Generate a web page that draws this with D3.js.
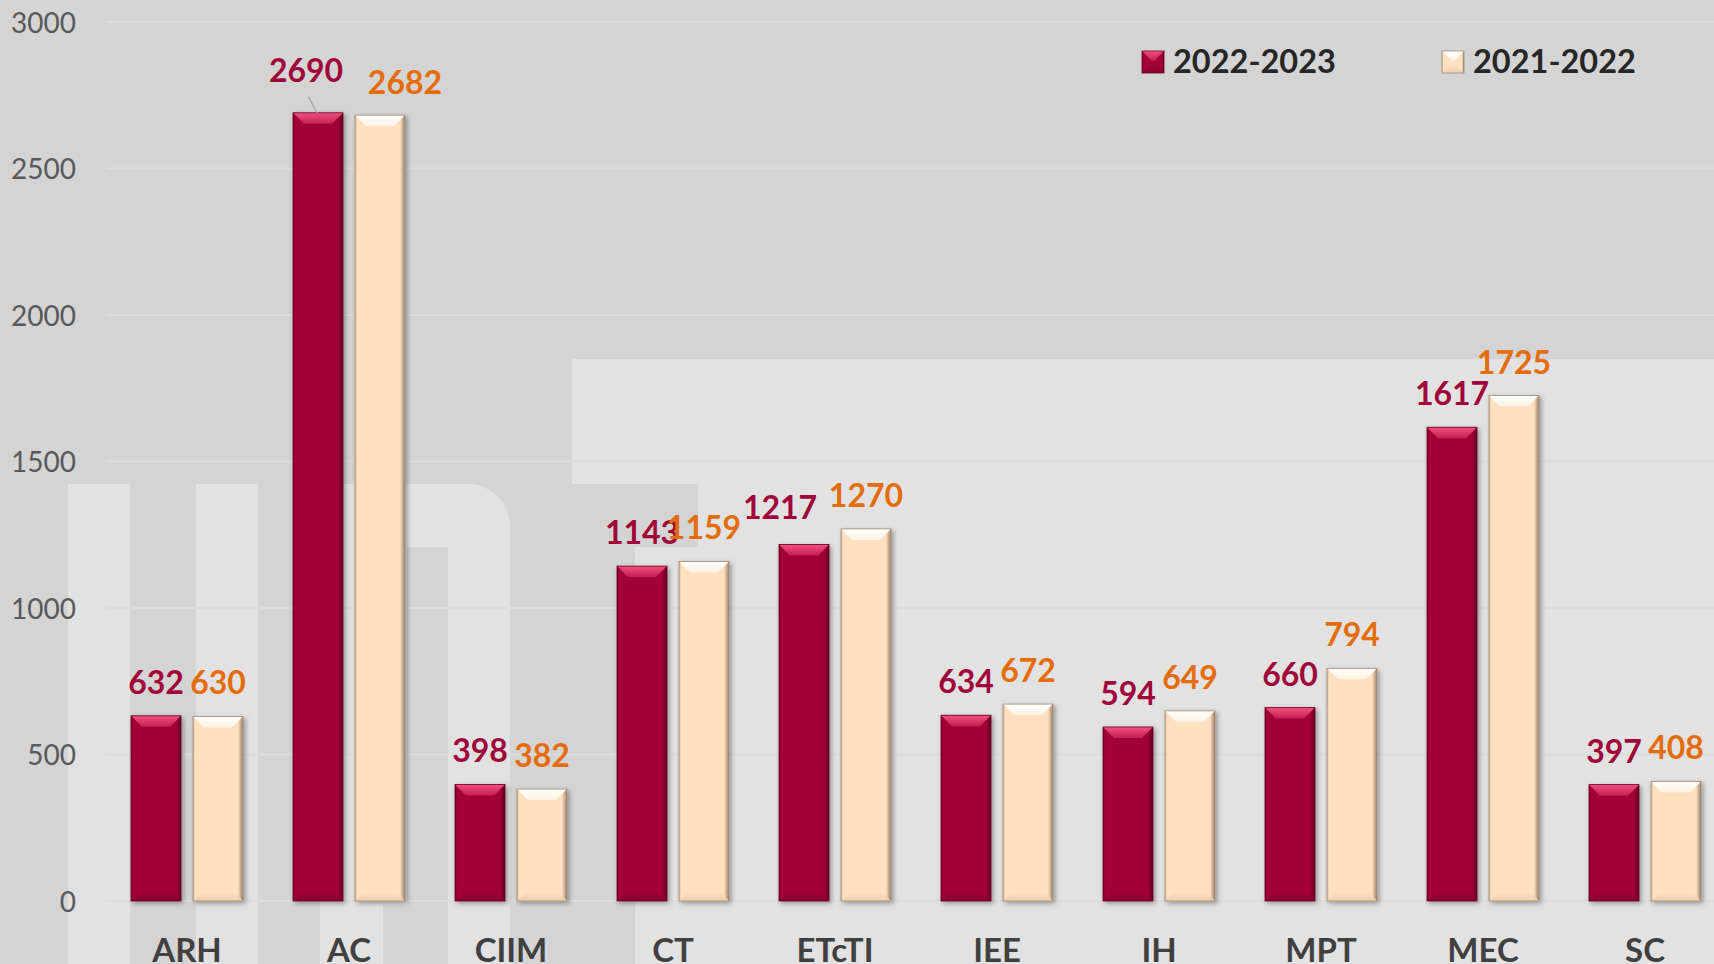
<!DOCTYPE html>
<html>
<head>
<meta charset="utf-8">
<script src="https://cdn.jsdelivr.net/npm/d3@7"></script>
<style>
  html, body { margin: 0; padding: 0; background: #d4d4d4; overflow: hidden; }
  svg { display: block; font-family: Lato, "Noto Sans", sans-serif; }
</style>
</head>
<body>
<div id="chart"></div>
<script>
// data
var categories = ["ARH", "AC", "CIIM", "CT", "ETcTI", "IEE", "IH", "MPT", "MEC", "SC"];
var values_2223 = [632, 2690, 398, 1143, 1217, 634, 594, 660, 1617, 397];
var values_2122 = [630, 2682, 382, 1159, 1270, 672, 649, 794, 1725, 408];
var series_names = ["2022-2023", "2021-2022"];
var y_ticks = [0, 500, 1000, 1500, 2000, 2500, 3000];

const width = 1714, height = 964;
const plot = {left: 106, right: 1726, top: 22, bottom: 901};
const label_fill = ["#a0063a", "#e46c0a"];

// hand-placed labels in the original (excel style moves)
var label_moves = {
    "AC|0": {dx: -12, dy: -31, leader: true},
    "AC|1": {dx: 25, dy: -21},
    "ETcTI|0": {dx: -24, dy: -25}
};

var rows = categories.map(function(c, i) {
    return {cat: c, vals: [values_2223[i], values_2122[i]]};
});

var svg = d3.select("#chart").append("svg")
    .attr("width", width)
    .attr("height", height);

var defs = svg.append("defs");

function grad(id, vertical, stops) {
    var g = defs.append("linearGradient").attr("id", id)
        .attr("x1", "0").attr("y1", "0")
        .attr("x2", vertical ? "0" : "1").attr("y2", vertical ? "1" : "0");
    stops.forEach(function(s) {
        g.append("stop").attr("offset", s[0]).attr("stop-color", s[1]);
    });
}
grad("body0", false, [[0, "#8a002d"], [0.06, "#a40337"], [0.9, "#a40337"], [1, "#5e0020"]]);
grad("body1", false, [[0, "#d9bb9c"], [0.05, "#ffe0c1"], [0.9, "#ffe0c1"], [1, "#9c8068"]]);
grad("top0", true, [[0, "#f2507f"], [1, "#c51f52"]]);
grad("top1", true, [[0, "#ffffff"], [1, "#fff2e2"]]);
grad("bot0", true, [[0, "#9c0234"], [1, "#88002c"]]);
grad("bot1", true, [[0, "#fbdcbc"], [1, "#f0cfae"]]);

var shadow = defs.append("filter").attr("id", "shadow")
    .attr("x", "-20%").attr("y", "-5%").attr("width", "150%").attr("height", "115%");
shadow.append("feDropShadow")
    .attr("dx", 2).attr("dy", 2).attr("stdDeviation", 2.5)
    .attr("flood-color", "#000").attr("flood-opacity", 0.35);

// background logo watermark (lighter shapes)
var bg = svg.append("g").attr("fill", "#e2e2e2");
bg.append("rect").attr("x", 68).attr("y", 484).attr("width", 62).attr("height", 480);
bg.append("rect").attr("x", 196).attr("y", 484).attr("width", 62).attr("height", 480);
bg.append("path")
    .attr("d", "M320,964 L320,484 L468,484 A42,42 0 0 1 510,526 L510,964 L448,964 L448,547 L407,547 L407,905 L383,905 L383,964 Z");
bg.append("path")
    .attr("d", "M572,359 L1714,359 L1714,964 L635,964 L635,547 L698,547 L698,484 L572,484 Z");

// scales
var x0 = d3.scaleBand().domain(categories).range([plot.left, plot.right]);
var x1 = d3.scaleBand().domain([0, 1]).range([25, 137]).paddingInner(0.1935);
var y = d3.scaleLinear().domain([0, 3000]).range([plot.bottom, plot.top]);

// gridlines
svg.append("g")
    .selectAll("line")
    .data(y_ticks)
    .enter()
    .append("line")
    .attr("x1", plot.left)
    .attr("x2", width)
    .attr("y1", function(d) { return y(d); })
    .attr("y2", function(d) { return y(d); })
    .attr("stroke", "#dcdcdc")
    .attr("stroke-width", 2);

// y axis, no domain line
var yAxis = d3.axisLeft(y).tickValues(y_ticks).tickFormat(d3.format("d")).tickSize(0).tickPadding(0);
var yg = svg.append("g")
    .attr("transform", "translate(76,0)")
    .call(yAxis);
yg.select(".domain").remove();
yg.selectAll("text")
    .attr("font-family", "Lato, 'Noto Sans', sans-serif")
    .attr("font-size", 28)
    .attr("fill", "#595959")
    .attr("dy", "0.36em");

// x axis labels (cut by the bottom edge like the original)
var xAxis = d3.axisBottom(x0).tickSize(0).tickPadding(0);
var xg = svg.append("g")
    .attr("transform", "translate(0," + plot.bottom + ")")
    .call(xAxis);
xg.select(".domain").remove();
xg.selectAll("text")
    .attr("font-family", "Lato, 'Noto Sans', sans-serif")
    .attr("font-size", 33)
    .attr("font-weight", "bold")
    .attr("fill", "#404040")
    .attr("y", 61)
    .attr("dy", 0);

// bevelled bar, like excel's angle bevel
function draw_bar(g, x, yTop, w, h, s, b) {
    var bb = Math.min(b, h / 2);
    g.append("rect")
        .attr("x", x).attr("y", yTop).attr("width", w).attr("height", h)
        .attr("fill", "url(#body" + s + ")");
    g.append("path")
        .attr("d", "M" + x + "," + yTop + " L" + (x + w) + "," + yTop +
            " L" + (x + w - bb) + "," + (yTop + bb) + " L" + (x + bb) + "," + (yTop + bb) + " Z")
        .attr("fill", "url(#top" + s + ")");
    g.append("path")
        .attr("d", "M" + x + "," + (yTop + h) + " L" + (x + w) + "," + (yTop + h) +
            " L" + (x + w - bb * 0.7) + "," + (yTop + h - bb * 0.7) + " L" + (x + bb * 0.7) + "," + (yTop + h - bb * 0.7) + " Z")
        .attr("fill", "url(#bot" + s + ")");
    g.append("rect")
        .attr("x", x).attr("y", yTop).attr("width", w).attr("height", h)
        .attr("fill", "none")
        .attr("stroke", s == 0 ? "#6a0022" : "#a08a74")
        .attr("stroke-width", 0.8);
}

var bars = svg.append("g").attr("filter", "url(#shadow)");
rows.forEach(function(r) {
    r.vals.forEach(function(v, s) {
        var bx = x0(r.cat) + x1(s);
        var g = bars.append("g").attr("class", "bar");
        draw_bar(g, bx, y(v), x1.bandwidth(), y(0) - y(v), s, 11);
    });
});

// data labels
var labels = svg.append("g")
    .attr("font-family", "Lato, 'Noto Sans', sans-serif")
    .attr("font-size", 32)
    .attr("font-weight", "bold")
    .attr("text-anchor", "middle");
rows.forEach(function(r) {
    r.vals.forEach(function(v, s) {
        var mv = label_moves[r.cat + "|" + s] || {dx: 0, dy: -22};
        var cx = x0(r.cat) + x1(s) + x1.bandwidth() / 2;
        var lx = cx + mv.dx, ly = y(v) + mv.dy;
        if (mv.leader) {
            labels.append("line")
                .attr("x1", lx + 2.5).attr("y1", ly + 15)
                .attr("x2", cx - 1).attr("y2", y(v))
                .attr("stroke", "#a6a6a6").attr("stroke-width", 1.3);
        }
        labels.append("text")
            .attr("x", lx)
            .attr("y", ly)
            .attr("fill", label_fill[s])
            .text(v);
    });
});

// legend
var legend_x = [1142, 1442];
var legend = svg.append("g");
series_names.forEach(function(name, s) {
    var g = legend.append("g");
    draw_bar(g, legend_x[s], 51, 22, 22, s, 10);
    legend.append("text")
        .attr("x", legend_x[s] + 31)
        .attr("y", 73)
        .attr("font-family", "Lato, 'Noto Sans', sans-serif")
        .attr("font-size", 32.5)
        .attr("font-weight", "bold")
        .attr("fill", "#262626")
        .text(name);
});
</script>
</body>
</html>
